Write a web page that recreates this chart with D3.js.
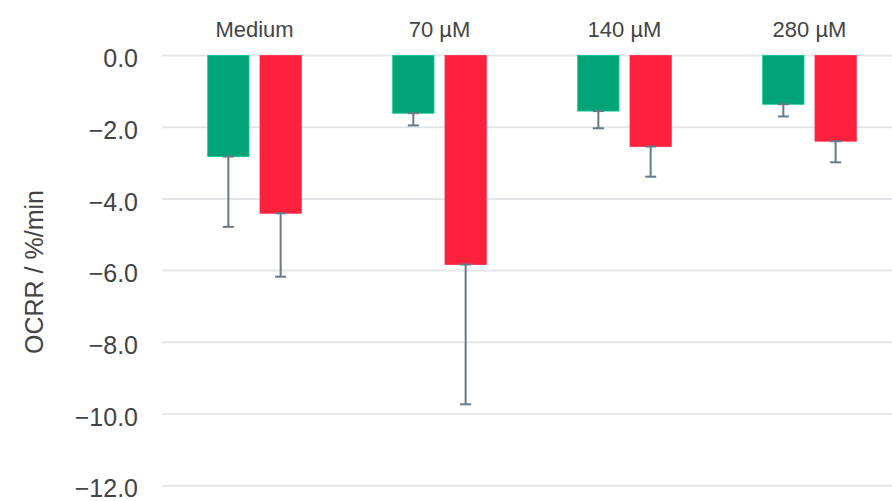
<!DOCTYPE html>
<html>
<head>
<meta charset="utf-8">
<script src="https://cdn.jsdelivr.net/npm/d3@7"></script>
<style>
  html, body { margin: 0; padding: 0; background: #fff; }
  svg { display: block; font-family: "Liberation Sans", Arial, Helvetica, sans-serif; }
</style>
</head>
<body>
<svg id="chart" width="892" height="501"></svg>
<script>
// Oxygen consumption rate change per condition, two series with one-sided (downward) error bars
const categories = ["Medium", "70 µM", "140 µM", "280 µM"];
const seriesNames = ["A", "B"];
const seriesAMean = [-2.82, -1.61, -1.55, -1.36];
const seriesAErr  = [1.96, 0.34, 0.48, 0.34];
const seriesBMean = [-4.40, -5.83, -2.54, -2.39];
const seriesBErr  = [1.77, 3.90, 0.84, 0.59];
const yTicks = [0, -2, -4, -6, -8, -10, -12];
const yTitle = "OCRR / %/min";

const colors = { A: "#00a477", B: "#fc223d" };
const errColor = "#687a86";

const rows = [];
categories.forEach((c, i) => {
  rows.push({ cat: c, series: "A", mean: seriesAMean[i], err: seriesAErr[i] });
  rows.push({ cat: c, series: "B", mean: seriesBMean[i], err: seriesBErr[i] });
});

const svg = d3.select("#chart");
const plot = { left: 162, right: 902, top: 55.5, bottom: 485.7 };

const x0 = d3.scaleBand().domain(categories).range([plot.left, plot.right]).paddingInner(0).paddingOuter(0);
const x1 = d3.scaleBand().domain(seriesNames).range([0, x0.bandwidth()]).paddingInner(0.21).paddingOuter(0.874);
const y = d3.scaleLinear().domain([0, -12]).range([plot.top, plot.bottom]);

// horizontal gridlines
svg.append("g")
  .selectAll("line")
  .data(yTicks)
  .join("line")
  .attr("x1", plot.left)
  .attr("x2", 892)
  .attr("y1", d => y(d))
  .attr("y2", d => y(d))
  .attr("stroke", "#e3e6e9")
  .attr("stroke-width", 2);

// y axis labels (no domain line, no tick marks)
const yAxis = d3.axisLeft(y).tickValues(yTicks).tickFormat(d3.format(".1f")).tickSize(0).tickPadding(24);
const yg = svg.append("g").attr("transform", `translate(${plot.left},0)`).call(yAxis);
yg.select(".domain").remove();
yg.selectAll("text")
  .attr("fill", "#444")
  .attr("font-size", 25)
  .attr("font-family", "Liberation Sans, Arial, sans-serif")
  .attr("dy", "0.45em");

// y axis title
svg.append("text")
  .attr("transform", `translate(43,272) rotate(-90)`)
  .attr("text-anchor", "middle")
  .attr("fill", "#444")
  .attr("font-size", 25)
  .text(yTitle);

// category labels along the top
svg.append("g")
  .selectAll("text")
  .data(categories)
  .join("text")
  .attr("x", d => x0(d) + x0.bandwidth() / 2)
  .attr("y", 36.5)
  .attr("text-anchor", "middle")
  .attr("fill", "#444")
  .attr("font-size", 22)
  .text(d => d);

// bars
svg.append("g")
  .selectAll("rect")
  .data(rows)
  .join("rect")
  .attr("x", d => x0(d.cat) + x1(d.series))
  .attr("width", x1.bandwidth())
  .attr("y", d => y(Math.max(0, d.mean)))
  .attr("height", d => Math.abs(y(d.mean) - y(0)))
  .attr("fill", d => colors[d.series])
  .attr("stroke", d => d3.color(colors[d.series]).brighter(0.6))
  .attr("stroke-width", 0.8);

// error bars: from the bar end down by the error, with caps at both ends
const capHalf = 5.5;
const eg = svg.append("g").attr("stroke", errColor).attr("stroke-width", 2).attr("fill", "none");
rows.forEach(d => {
  const cx = x0(d.cat) + x1(d.series) + x1.bandwidth() / 2;
  const yTop = y(d.mean);
  const yBot = y(d.mean - d.err);
  eg.append("line").attr("x1", cx).attr("x2", cx).attr("y1", yTop).attr("y2", yBot);
  eg.append("line").attr("x1", cx - capHalf).attr("x2", cx + capHalf).attr("y1", yTop).attr("y2", yTop);
  eg.append("line").attr("x1", cx - capHalf).attr("x2", cx + capHalf).attr("y1", yBot).attr("y2", yBot);
});
</script>
</body>
</html>
